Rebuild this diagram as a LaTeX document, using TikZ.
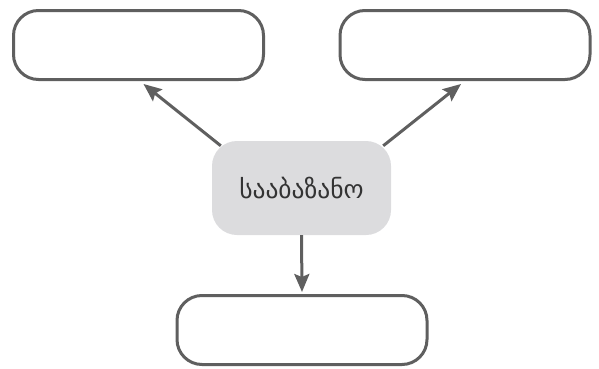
\documentclass[tikz,border=0pt]{standalone}
\usepackage{fontspec}
\newfontfamily\geofont[Script=Georgian]{DejaVu Sans}
\usetikzlibrary{arrows.meta,calc}
\definecolor{edgegray}{HTML}{5F5F5F}
\definecolor{fillgray}{HTML}{DCDCDE}
\begin{document}
\begin{tikzpicture}[x=1pt,y=1pt,
  emptybox/.style={draw=edgegray,line width=3pt,rounded corners=25pt,fill=white,
    minimum width=250pt,minimum height=69pt,inner sep=0pt},
  centerbox/.style={fill=fillgray,rounded corners=25pt,minimum width=179pt,
    minimum height=94pt,inner sep=0pt,font=\geofont\fontsize{25.5}{30}\selectfont,text=black!80},
  arr/.style={draw=edgegray,line width=3pt,-{Stealth[length=18pt,width=15pt,inset=3pt]}}]
\useasboundingbox (0,0) rectangle (599,368);
\node[emptybox] (tl) at (138.5,323) {};
\node[emptybox] (tr) at (465,323) {};
\node[emptybox] (b) at (302,38) {};
\node[centerbox] (c) at (301.5,180) {სააბაზანო};
\draw[arr] ($(c.north west)+(9,-5)$) -- ($(tl.south)+(5,-3)$);
\draw[arr] ($(c.north east)+(-8,-5)$) -- ($(tr.south)+(-4,-3)$);
\draw[arr] (c.south) -- ($(b.north)+(0,2)$);
\end{tikzpicture}
\end{document}
